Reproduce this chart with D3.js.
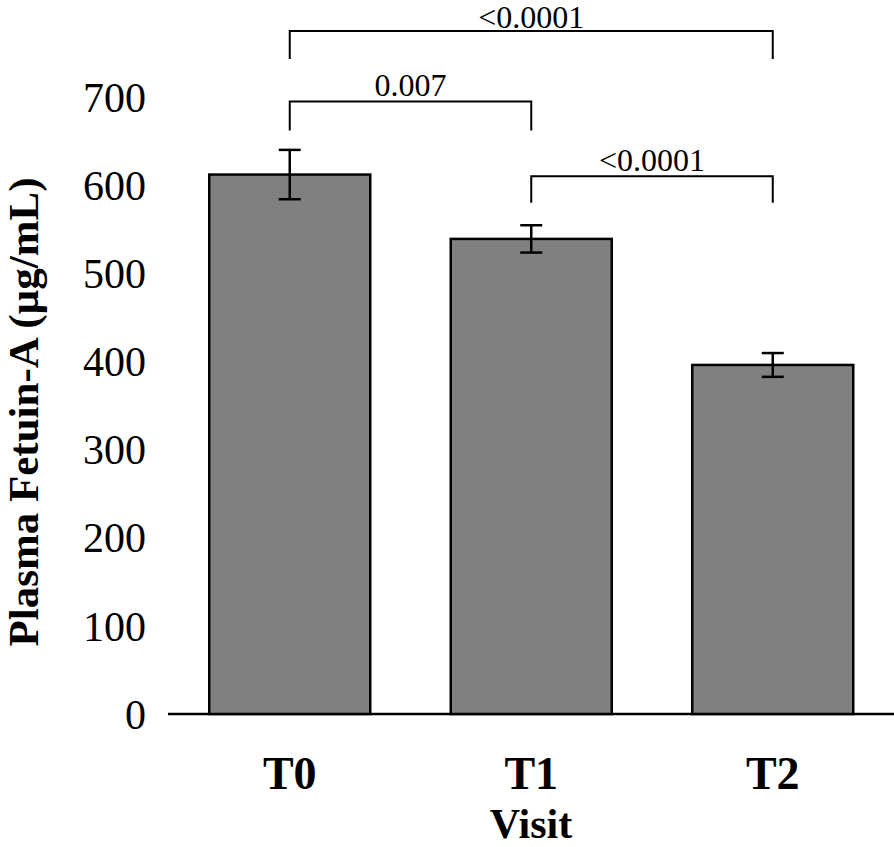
<!DOCTYPE html>
<html>
<head>
<meta charset="utf-8">
<script src="https://cdn.jsdelivr.net/npm/d3@7"></script>
<style>
  html, body { margin: 0; padding: 0; background: #fff; }
  svg { display: block; }
  text { font-family: "Liberation Serif", "Times New Roman", serif; fill: #000; }
</style>
</head>
<body>
<svg id="chart" width="894" height="847"></svg>
<script>
// ---- data ----
const categories = ["T0", "T1", "T2"];
const means = [612, 539, 396];
const errors = [28, 15.5, 13.5];
const yTicks = [0, 100, 200, 300, 400, 500, 600, 700];
const bracketFrom = ["T0", "T1", "T0"];
const bracketTo = ["T1", "T2", "T2"];
const bracketLevel = [695, 610, 775];
const bracketEnd = [662, 580, 743];
const bracketLabels = ["0.007", "<0.0001", "<0.0001"];
const yTitle = "Plasma Fetuin-A (µg/mL)";
const xTitle = "Visit";

// ---- layout ----
const svg = d3.select("#chart");
const x = d3.scaleBand().domain(categories).range([169, 893.5]).paddingInner(1/3).paddingOuter(1/6);
const y = d3.scaleLinear().domain([0, 700]).range([714, 97]);

// x axis line
svg.append("line").attr("x1", 168).attr("x2", 894)
  .attr("y1", y(0)).attr("y2", y(0))
  .attr("stroke", "#000").attr("stroke-width", 2.5);

// y tick labels
svg.append("g").selectAll("text").data(yTicks).join("text")
  .attr("x", 146).attr("y", d => y(d)).attr("dy", "0.35em")
  .attr("text-anchor", "end").style("font-size", "42px")
  .text(d => d);

// bars
svg.append("g").selectAll("rect").data(categories).join("rect")
  .attr("x", d => x(d)).attr("width", x.bandwidth())
  .attr("y", (d, i) => y(means[i])).attr("height", (d, i) => y(0) - y(means[i]))
  .attr("fill", "#808080").attr("stroke", "#000").attr("stroke-width", 2.5);

// error bars
const eg = svg.append("g").attr("stroke", "#000").attr("stroke-width", 2.5);
categories.forEach((c, i) => {
  const cx = x(c) + x.bandwidth() / 2;
  const hi = y(means[i] + errors[i]), lo = y(means[i] - errors[i]);
  eg.append("line").attr("x1", cx).attr("x2", cx).attr("y1", hi).attr("y2", lo);
  eg.append("line").attr("x1", cx - 11).attr("x2", cx + 11).attr("y1", hi).attr("y2", hi);
  eg.append("line").attr("x1", cx - 11).attr("x2", cx + 11).attr("y1", lo).attr("y2", lo);
});

// brackets
const bg = svg.append("g");
bracketFrom.forEach((f, i) => {
  const x1 = x(f) + x.bandwidth() / 2, x2 = x(bracketTo[i]) + x.bandwidth() / 2;
  const yl = y(bracketLevel[i]), ye = y(bracketEnd[i]);
  bg.append("path")
    .attr("d", `M${x1},${ye}V${yl}H${x2}V${ye}`)
    .attr("fill", "none").attr("stroke", "#000").attr("stroke-width", 2);
  bg.append("text").attr("x", (x1 + x2) / 2).attr("y", Math.max(yl - 5, 28))
    .attr("text-anchor", "middle").style("font-size", "32px")
    .text(bracketLabels[i]);
});

// x tick labels
svg.append("g").selectAll("text").data(categories).join("text")
  .attr("x", d => x(d) + x.bandwidth() / 2).attr("y", 789)
  .attr("text-anchor", "middle").style("font-size", "46px").style("font-weight", "bold")
  .text(d => d);

// axis titles
svg.append("text").attr("x", 531).attr("y", 838)
  .attr("text-anchor", "middle").style("font-size", "42px").style("font-weight", "bold")
  .text(xTitle);

svg.append("text").attr("transform", "translate(38,412) rotate(-90)")
  .attr("text-anchor", "middle")
  .style("font-size", "43px").style("font-weight", "bold")
  .text(yTitle);
</script>
</body>
</html>
